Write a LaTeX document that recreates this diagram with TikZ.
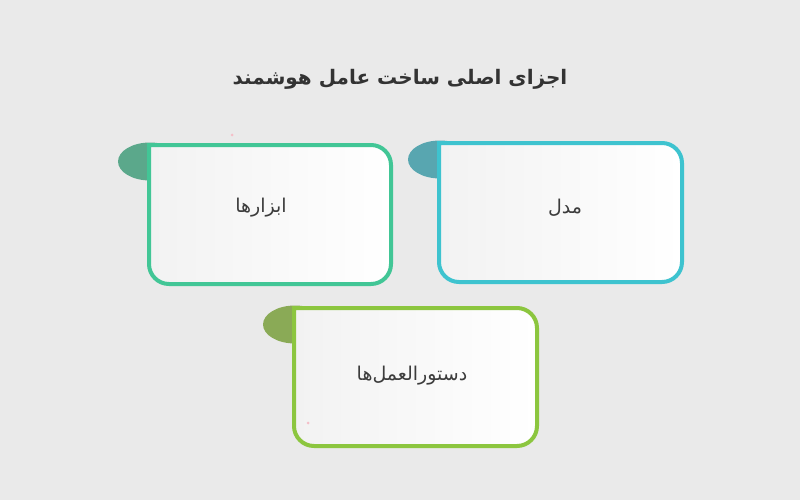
\documentclass[tikz,border=0pt]{standalone}
\usepackage{fontspec}
\newfontfamily\arabicfont[Script=Arabic]{DejaVu Sans}
\TeXXeTstate=1
\definecolor{bg}{HTML}{EAEAEA}
\definecolor{cyanB}{HTML}{3EC3CF}
\definecolor{cyanT}{HTML}{58A6B0}
\definecolor{greenB}{HTML}{42C696}
\definecolor{greenT}{HTML}{5BA88B}
\definecolor{limeB}{HTML}{8CC63F}
\definecolor{limeT}{HTML}{8AAA56}
\definecolor{txt}{HTML}{3C3C3C}
\definecolor{fillA}{HTML}{F2F2F2}
\definecolor{dotc}{HTML}{F5BFC8}
\tikzset{
  labeltext/.style={text=txt,font=\arabicfont\fontsize{19}{22}\selectfont},
  titletext/.style={text=txt!85!black,font=\arabicfont\bfseries\fontsize{20}{24}\selectfont},
}
\newcommand{\mycard}[6]{% x0 y0 x1 y1 border tab
  \fill[#6] ({#1+3},{#2+18.5}) ellipse [x radius=32, y radius=19];
  \shade[shading angle=120,left color=fillA,right color=white]
    ({#1+2},{#2+2}) -- ({#3-22},{#2+2}) arc[start angle=90,end angle=0,x radius=20,y radius=-20]
    -- ({#3-2},{#4-22}) arc[start angle=0,end angle=-90,x radius=20,y radius=-20]
    -- ({#1+22},{#4-2}) arc[start angle=270,end angle=180,x radius=20,y radius=-20] -- cycle;
  \draw[#5,line width=4,line join=miter]
    ({#1+2},{#2+2}) -- ({#3-22},{#2+2}) arc[start angle=90,end angle=0,x radius=20,y radius=-20]
    -- ({#3-2},{#4-22}) arc[start angle=0,end angle=-90,x radius=20,y radius=-20]
    -- ({#1+22},{#4-2}) arc[start angle=270,end angle=180,x radius=20,y radius=-20] -- cycle;
}
\begin{document}
\begin{tikzpicture}[x=1pt,y=-1pt]
\fill[bg] (0,0) rectangle (800,500);
\useasboundingbox (0,0) rectangle (800,500);
\node[titletext] (title) at (400,79) {\beginR اجزای اصلی ساخت عامل هوشمند\endR};
\mycard{437}{141}{684}{284}{cyanB}{cyanT}
\mycard{147}{143}{393}{286}{greenB}{greenT}
\mycard{292}{306}{539}{448}{limeB}{limeT}
\node[labeltext] (model) at (565,208) {\beginR مدل\endR};
\node[labeltext] (tools) at (261,208) {\beginR ابزارها\endR};
\node[labeltext] (instr) at (412,376) {\beginR دستورالعمل‌ها\endR};
\fill[dotc] (232,135) circle (1.5);
\fill[dotc] (308,423) circle (1.5);
\end{tikzpicture}
\end{document}
